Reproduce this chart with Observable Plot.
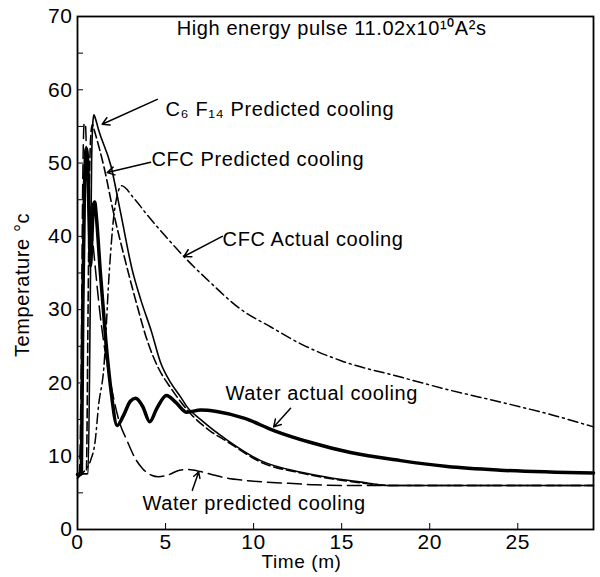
<!DOCTYPE html>
<html><head><meta charset="utf-8">
<script src="https://cdn.jsdelivr.net/npm/d3@7"></script>
<script src="https://cdn.jsdelivr.net/npm/@observablehq/plot@0.6"></script>
<style>
body{margin:0;background:#fff}
svg{font-family:"Liberation Sans",Arial,Helvetica,sans-serif}
svg text{letter-spacing:0.6px}
</style>
</head><body><div id="chart"></div>
<script>
// ---- data (time in minutes, temperature in °C) ----
const c6f14Time = [0, 0.6, 0.72, 0.8, 0.87, 0.93, 1.0, 1.2, 1.9, 2.45, 3.1, 3.6, 4.2, 4.7, 5.3, 5.85, 6.2, 7.0, 8.5, 10.4, 12.7, 14.5, 16.0, 17.8, 29.3];
const c6f14Temp = [7.6, 7.6, 30, 50, 55.5, 56.6, 56.2, 54.5, 49.6, 43.2, 35.5, 31.3, 27, 22.9, 20, 18.1, 16.8, 15.0, 12.2, 9.4, 7.8, 7.0, 6.5, 6.0, 6.0];

const cfcPredTime = [0, 0.5, 0.6, 0.68, 0.78, 0.85, 0.95, 1.5, 2.05, 2.7, 3.3, 4.0, 4.6, 5.3, 5.9, 6.5, 7.5, 8.5, 10.4, 12.7, 14.5, 16, 17.8, 29.3];
const cfcPredTemp = [7.6, 7.6, 30, 48, 54.5, 55.3, 54.5, 49.5, 43.2, 36.8, 31.3, 25.5, 22, 19.3, 17.3, 15.6, 13.5, 12.0, 9.2, 7.7, 6.9, 6.4, 6.0, 6.0];

const cfcActTime = [0, 0.4, 0.74, 1.0, 1.2, 1.5, 1.8, 2.1, 2.5, 3.2, 4.0, 5.0, 6.1, 7.5, 9.3, 11.0, 12.7, 15.0, 18.35, 21, 24, 27, 29.3];
const cfcActTemp = [7.0, 8.0, 9.4, 12, 17, 22.2, 35, 43.5, 46.9, 45.2, 42.8, 40, 37.1, 33.8, 30, 27.6, 25.3, 23, 20.8, 19.1, 17.4, 15.6, 14.0];

const waterActTime = [0, 0.22, 0.3, 0.4, 0.5, 0.58, 0.66, 0.74, 0.82, 0.9, 0.98, 1.06, 1.3, 1.6, 1.9, 2.25, 2.6, 3.0, 3.3, 3.7, 4.1, 4.5, 5.05, 5.6, 6.2, 7.0, 7.9, 9.45, 11.15, 13.2, 15.5, 18.35, 21, 24, 29.3];
const waterActTemp = [7.5, 7.6, 30, 47, 52, 50, 42, 36, 40, 44.2, 44.7, 43, 35, 26, 19, 14.2, 15.5, 17.5, 17.9, 16.8, 14.7, 16.5, 18.3, 17.3, 16.0, 16.3, 16.1, 15.2, 13.5, 11.9, 10.5, 9.4, 8.6, 8.1, 7.7];

const waterPredTime = [0, 0.1, 0.2, 0.3, 0.38, 0.46, 0.52, 0.7, 1.0, 1.3, 1.6, 2.0, 2.4, 2.8, 3.3, 3.7, 4.2, 4.6, 5.2, 5.8, 6.3, 7.0, 7.8, 8.5, 9.5, 10.5, 12, 13.5, 16, 29.3];
const waterPredTemp = [7.0, 7.5, 20, 48, 55.5, 55, 50, 44, 36, 29, 23.8, 18.5, 14.5, 12.2, 9.6, 8.3, 7.4, 7.2, 7.5, 8.1, 8.2, 7.9, 7.4, 7.0, 6.7, 6.5, 6.3, 6.1, 6.0, 6.0];

const xTicks = [0, 5, 10, 15, 20, 25];
const yTicks = [0, 10, 20, 30, 40, 50, 60, 70];
const yMinorTicks = [5, 15, 25, 35, 45, 55, 65];

const titleText = "High energy pulse 11.02x10\u00B9\u2070A\u00B2s";
const xLabel = "Time (m)";
const yLabel = "Temperature \u00B0c";

// annotation labels: text, anchor point (data coords), arrow from -> to
const labelText = ["C\u2086 F\u2081\u2084 Predicted cooling", "CFC Predicted cooling", "CFC Actual cooling", "Water actual cooling", "Water predicted cooling"];
const labelX = [5.0, 4.2, 8.24, 8.41, 3.69];
const labelY = [57.3, 50.5, 39.5, 18.5, 3.56];
const arrowX1 = [4.53, 4.15, 8.22, 12.1, 6.52];
const arrowY1 = [58.7, 50.1, 40.0, 16.55, 5.34];
const arrowX2 = [1.40, 1.69, 6.04, 11.14, 6.88];
const arrowY2 = [55.3, 48.7, 37.25, 14.0, 7.84];

// ---- build tables ----
const toRows = (t, v) => t.map((d, i) => ({time: d, temp: v[i]}));
const c6f14 = toRows(c6f14Time, c6f14Temp);
const cfcPred = toRows(cfcPredTime, cfcPredTemp);
const cfcAct = toRows(cfcActTime, cfcActTemp);
const waterAct = toRows(waterActTime, waterActTemp);
const waterPred = toRows(waterPredTime, waterPredTemp);
const labels = labelText.map((t, i) => ({text: t, x: labelX[i], y: labelY[i]}));
const arrows = arrowX1.map((d, i) => ({x1: d, y1: arrowY1[i], x2: arrowX2[i], y2: arrowY2[i]}));

const FS = 20;
const TFS = 21;
const chart = Plot.plot({
  width: 600,
  height: 577,
  marginLeft: 77,
  marginRight: 7,
  marginTop: 16,
  marginBottom: 48,
  style: {fontSize: FS + "px", fontFamily: '"Liberation Sans", Arial, sans-serif', color: "#000", background: "#fff"},
  x: {domain: [0, 29.3]},
  y: {domain: [0, 70]},
  marks: [
    Plot.frame({stroke: "#000", strokeWidth: 1.8}),
    Plot.axisX({ticks: xTicks, tickSize: -6, tickPadding: 11, fontSize: TFS, label: null}),
    Plot.axisY({ticks: yTicks, tickSize: -6, tickPadding: 11, fontSize: TFS, label: null}),
    Plot.axisY({ticks: yMinorTicks, tickSize: -6, text: null, label: null}),
    Plot.text([xLabel], {frameAnchor: "bottom", dx: -34, dy: 38, fontSize: 19, fill: "#000"}),
    Plot.text([yLabel], {frameAnchor: "left", textAnchor: "middle", dx: -55, dy: 12, rotate: -90, fontSize: FS, fill: "#000"}),
    Plot.text([titleText], {x: () => 14.43, y: () => 68.3, fontSize: FS, fill: "#000"}),
    Plot.line(cfcAct, {x: "time", y: "temp", stroke: "#000", strokeWidth: 1.5, strokeDasharray: "10,4,2,4", curve: "monotone-x"}),
    Plot.line(waterPred, {x: "time", y: "temp", stroke: "#000", strokeWidth: 1.5, strokeDasharray: "14,6", curve: "monotone-x"}),
    Plot.line(cfcPred, {x: "time", y: "temp", stroke: "#000", strokeWidth: 1.6, strokeDasharray: "9,4", curve: "monotone-x"}),
    Plot.line(c6f14, {x: "time", y: "temp", stroke: "#000", strokeWidth: 1.6, curve: "monotone-x"}),
    Plot.line(waterAct, {x: "time", y: "temp", stroke: "#000", strokeWidth: 3.5, curve: "monotone-x"}),
    Plot.arrow(arrows, {x1: "x1", y1: "y1", x2: "x2", y2: "y2", stroke: "#000", strokeWidth: 1.5, headLength: 8}),
    Plot.text(labels, {x: "x", y: "y", text: "text", textAnchor: "start", fontSize: FS, fill: "#000"})
  ]
});
document.getElementById("chart").append(chart);
</script>
</body></html>
